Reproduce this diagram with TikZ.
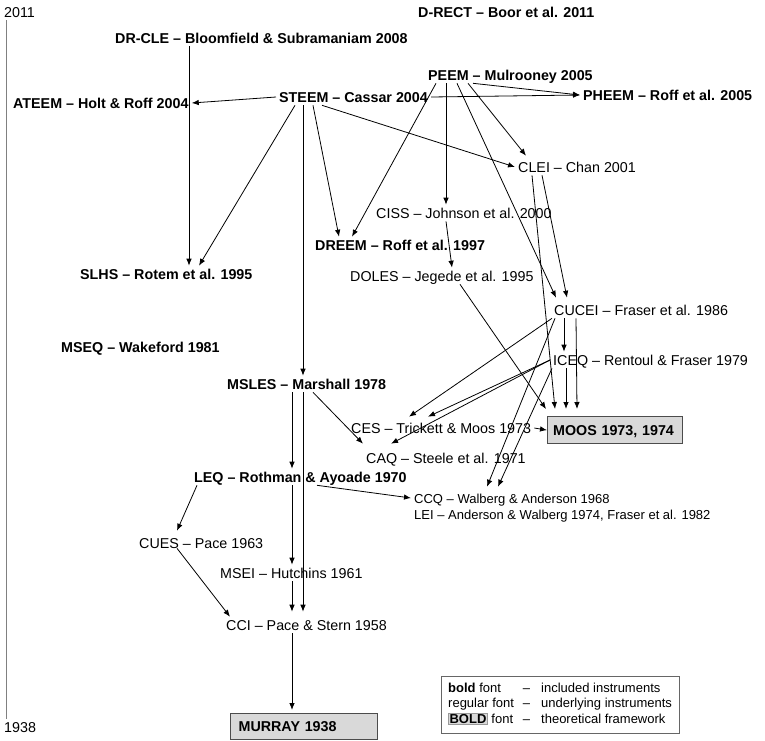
\documentclass[tikz,border=0pt]{standalone}
\usepackage{fontspec}
\setmainfont{Liberation Sans}
\usetikzlibrary{arrows.meta}
\setlength{\fboxsep}{1pt}

\begin{document}
\begin{tikzpicture}[x=1pt,y=-1pt,
            txt/.style={anchor=west,inner xsep=3pt,inner ysep=3pt,text height=10.2pt,text depth=0pt,font=\fontsize{14.3}{17}\selectfont},
            incl/.style={txt,font=\fontsize{14.3}{17}\selectfont\bfseries},
            under/.style={txt},
            smaller/.style={txt,font=\fontsize{13}{15}\selectfont},
            theory/.style={anchor=north west,draw=black!70,fill=black!15,line width=1.2pt,inner xsep=8pt,inner ysep=0pt,text height=10.2pt,text depth=0pt,minimum height=27pt,font=\fontsize{14.3}{17}\selectfont\bfseries},
            link/.style={-{Latex[length=7pt,width=5.5pt]},line width=0.8pt}]
            \useasboundingbox (0,0) rectangle (765,740);

            \node[under] (yr2011) at (1,12) {2011};
            \node[under] (yr1938) at (1,727) {1938};
            \draw[gray,line width=1pt] ([xshift=5pt]yr2011.south west) -- ([xshift=5pt]yr1938.north west);

            \node[incl] (drect) at (415,12) {D-RECT -- Boor et al. 2011};
            \node[incl] (drcle) at (112,38) {DR-CLE -- Bloomfield \& Subramaniam 2008};
            \node[incl] (peem) at (425,75) {PEEM -- Mulrooney 2005};
            \node[incl] (steem) at (276,97) {STEEM -- Cassar 2004};
            \node[incl] (ateem) at (10,103) {ATEEM -- Holt \& Roff 2004};
            \node[incl] (pheem) at (580,95) {PHEEM -- Roff et al. 2005};
            \node[under] (clei) at (515,167) {CLEI -- Chan 2001};
            \node[under] (ciss) at (373,213) {CISS -- Johnson et al. 2000};
            \node[incl] (dreem) at (312,245) {DREEM -- Roff et al. 1997};
            \node[incl] (slhs) at (77,274) {SLHS -- Rotem et al. 1995};
            \node[under] (doles) at (347,276) {DOLES -- Jegede et al. 1995};
            \node[under] (cucei) at (551,310) {CUCEI -- Fraser et al. 1986};
            \node[incl] (mseq) at (58,347) {MSEQ -- Wakeford 1981};
            \node[under] (iceq) at (550,360) {ICEQ -- Rentoul \& Fraser 1979};
            \node[incl] (msles) at (224,384) {MSLES -- Marshall 1978};
            \node[under] (ces) at (348,428) {CES -- Trickett \& Moos 1973};
            \node[theory,text width=124pt,inner xsep=5.5pt] (moos) at (547,416) {MOOS 1973, 1974};
            \node[under] (caq) at (363,458) {CAQ -- Steele et al. 1971};
            \node[incl] (leq) at (191,477) {LEQ -- Rothman \& Ayoade 1970};
            \node[smaller] (ccq) at (411,498) {CCQ -- Walberg \& Anderson 1968};
            \node[smaller] (lei) at (411,514) {LEI -- Anderson \& Walberg 1974, Fraser et al. 1982};
            \node[under] (cues) at (136,543) {CUES -- Pace 1963};
            \node[under] (msei) at (217,573) {MSEI -- Hutchins 1961};
            \node[under] (cci) at (223,625) {CCI -- Pace \& Stern 1958};
            \node[theory,text width=131pt,minimum height=26pt] (murray) at (230,713) {MURRAY 1938};

            \draw[link] ([xshift=77pt]drcle.south west) -- ([xshift=112pt]slhs.north west);
            \draw[link] (steem.west) -- (ateem.east);
            \draw[link] ([xshift=19pt]steem.south west) -- ([xshift=122pt]slhs.north west);
            \draw[link] ([xshift=27pt]steem.south west) -- ([xshift=79pt]msles.north west);
            \draw[link] ([xshift=37pt]steem.south west) -- ([xshift=27pt]dreem.north west);
            \draw[link] ([xshift=46pt]steem.south west) -- (clei.west);
            \draw[link] (steem.east) -- (pheem.west);
            \draw[link] ([xshift=11pt]peem.south west) -- ([xshift=40pt]dreem.north west);
            \draw[link] ([xshift=21pt]peem.south west) -- ([xshift=73pt]ciss.north west);
            \draw[link] ([xshift=32pt]peem.south west) -- ([xshift=5pt,yshift=4pt]cucei.north west);
            \draw[link] ([xshift=43pt]peem.south west) -- ([xshift=11pt,yshift=3pt]clei.north west);
            \draw[link] ([xshift=48pt]peem.south west) -- (pheem.west);
            \draw[link] ([xshift=17pt]clei.south west) -- ([xshift=8pt,yshift=7pt]moos.north west);
            \draw[link] ([xshift=27pt]clei.south west) -- ([xshift=16pt,yshift=4pt]cucei.north west);
            \draw[link] ([xshift=73pt]ciss.south west) -- ([xshift=105pt]doles.north west);
            \draw[link] ([xshift=113pt]doles.south west) -- ([xshift=-1pt,yshift=7pt]moos.north west);
            \draw[link] ([xshift=13pt]cucei.south west) -- ([xshift=14pt]iceq.north west);
            \draw[link] ([xshift=25pt]cucei.south west) -- ([xshift=30pt,yshift=7pt]moos.north west);
            \draw[link] ([xshift=1pt]cucei.south west) -- ([xshift=61pt,yshift=3pt]ces.north west);
            \draw[link] ([xshift=4pt]cucei.south west) -- ([xshift=76pt,yshift=3pt]ccq.north west);
            \draw[link] (iceq.west) -- ([xshift=80pt,yshift=3pt]ces.north west);
            \draw[link] (iceq.west) -- ([xshift=28pt,yshift=6pt]caq.north west);
            \draw[link] ([xshift=2pt]iceq.south west) -- ([xshift=87pt,yshift=3pt]ccq.north west);
            \draw[link] ([xshift=16pt]iceq.south west) -- ([xshift=19pt,yshift=7pt]moos.north west);
            \draw[link] (ces.east) -- (moos.west);
            \draw[link] ([xshift=68pt]msles.south west) -- ([xshift=101pt]leq.north west);
            \draw[link] ([xshift=79pt]msles.south west) -- ([xshift=80pt,yshift=5pt]cci.north west);
            \draw[link] ([xshift=89pt]msles.south west) -- ([yshift=6pt]caq.north west);
            \draw[link] ([xshift=101pt]leq.south west) -- ([xshift=75pt]msei.north west);
            \draw[link] ([xshift=6pt]leq.south west) -- ([xshift=41pt,yshift=4pt]cues.north west);
            \draw[link] ([xshift=126pt]leq.south west) -- (ccq.west);
            \draw[link] ([xshift=75pt]msei.south west) -- ([xshift=69pt,yshift=5pt]cci.north west);
            \draw[link] ([xshift=41pt,yshift=3pt]cues.south west) -- ([xshift=7pt]cci.north west);
            \draw[link] ([xshift=69pt]cci.south west) -- ([xshift=62pt,yshift=3pt]murray.north west);

            \node[anchor=north west,draw=black!60,inner xsep=7pt,inner ysep=5pt,font=\fontsize{13}{15.5}\selectfont] (legend) at (441,676) {%
                \begin{tabular}{@{}l@{\hspace{9pt}}l@{\hspace{11pt}}l@{}}
                \textbf{bold} font & -- & included instruments\\
                regular font & -- & underlying instruments\\
                \fcolorbox{black!40}{black!15}{\textbf{BOLD}} font & -- & theoretical framework
                \end{tabular}};
        \end{tikzpicture}
\end{document}
